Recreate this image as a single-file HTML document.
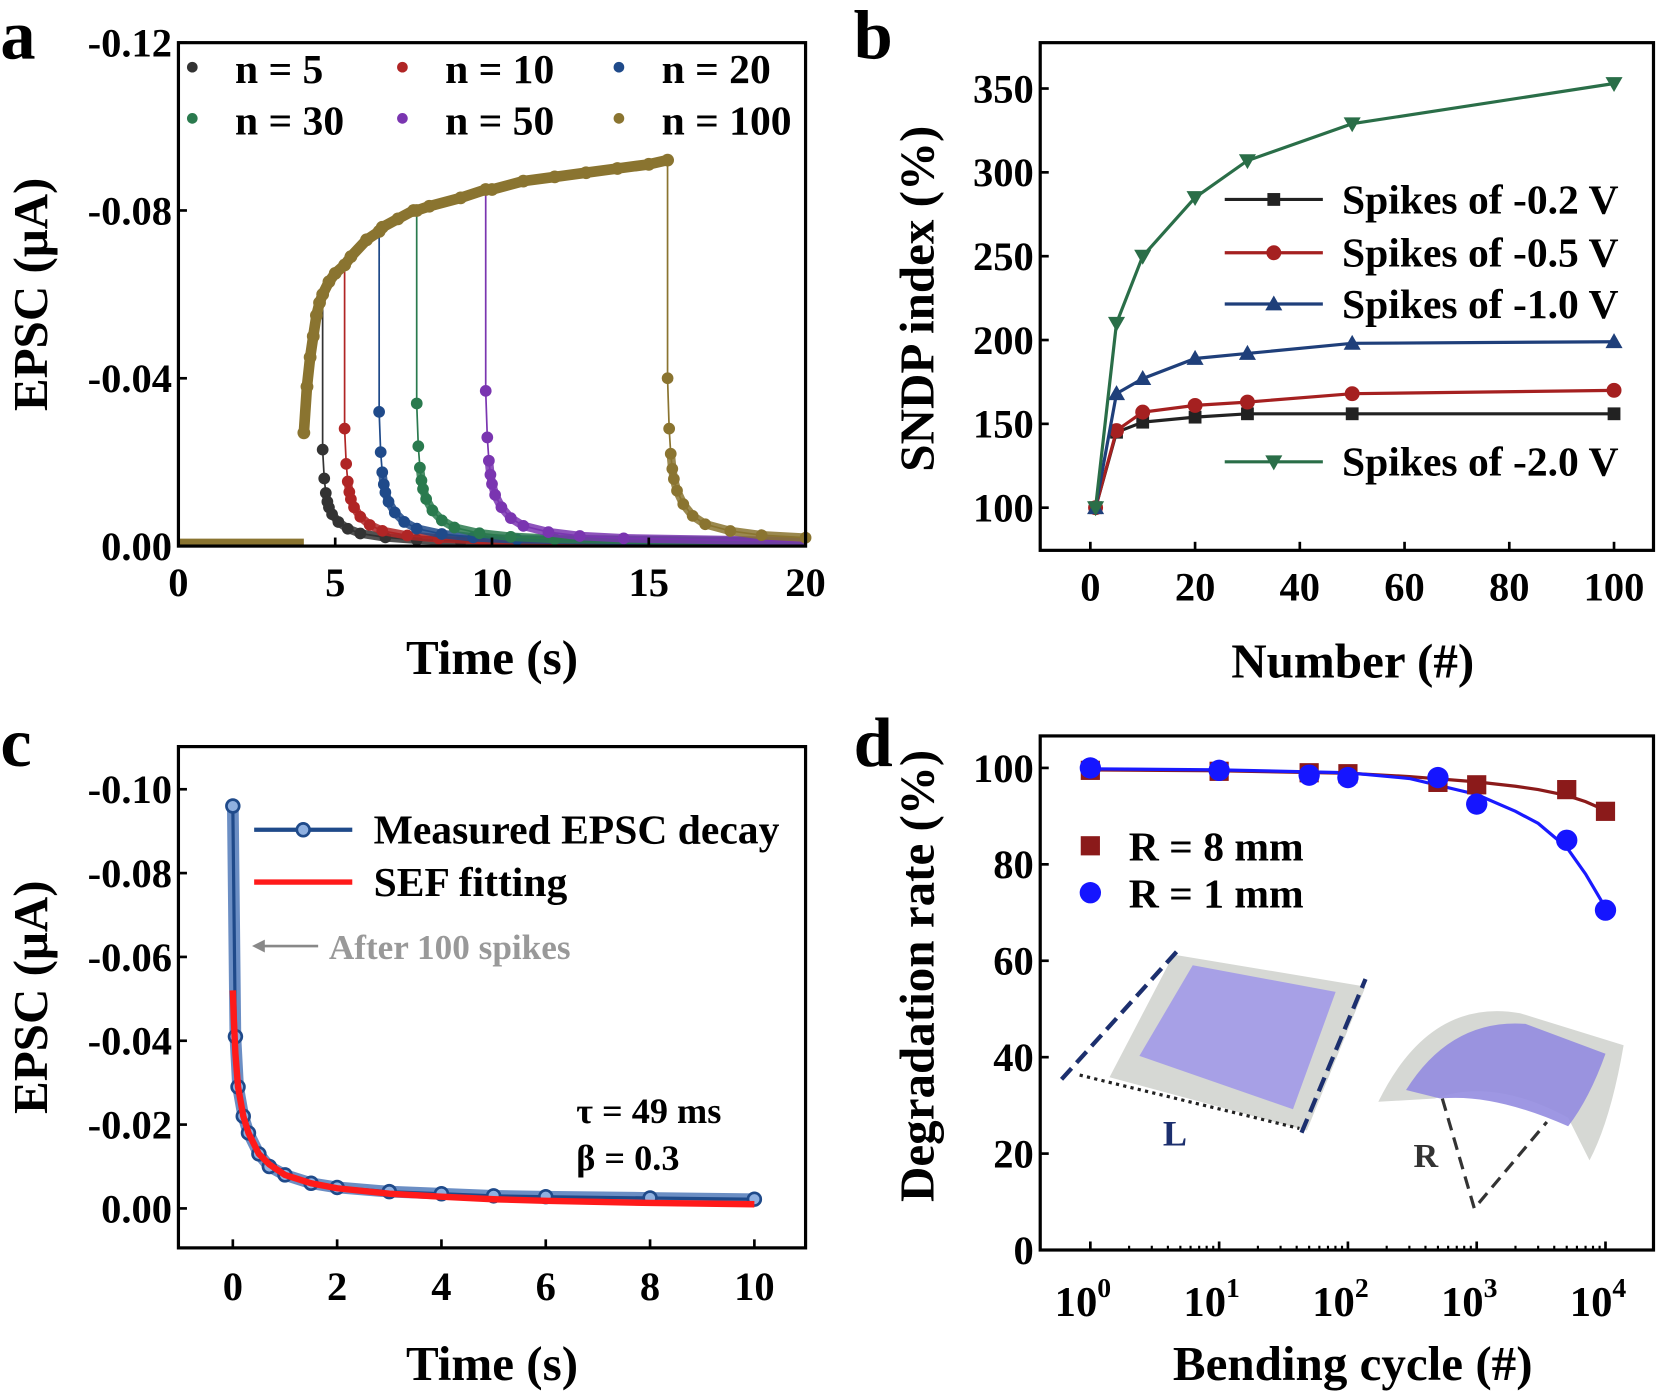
<!DOCTYPE html>
<html><head><meta charset="utf-8"><style>
html,body{margin:0;padding:0;background:#fff;}
svg{display:block;font-family:"Liberation Serif",serif;font-weight:bold;}
</style></head><body>
<svg id="fig" width="1673" height="1394" viewBox="0 0 1568 1307" xmlns="http://www.w3.org/2000/svg">
<g id="pa"></g>
<g id="pb"></g>
<g id="pc"></g>
<g id="pd"></g>
</svg>
<script>
// ---------- Panel a data ----------
const aSeriesNames = ["n = 5","n = 10","n = 20","n = 30","n = 50","n = 100"];
const aColors = ["#333333","#b02525","#1f4a8a","#2a7a4e","#7a35b0","#8a7430"];
const aEndTimes = [4.6,5.3,6.4,7.6,9.8,15.6];
const aDecayPeaks = [-0.023,-0.028,-0.032,-0.034,-0.037,-0.040];
const aRiseT = [4.0,4.1,4.2,4.3,4.4,4.5,4.6,4.8,5.0,5.3,5.5,6.0,6.4,6.5,7.0,7.5,7.6,8.0,9.0,9.8,10,11,12,13,14,15,15.6];
const aRiseV = [-0.027,-0.038,-0.045,-0.050,-0.055,-0.058,-0.060,-0.063,-0.065,-0.067,-0.069,-0.073,-0.075,-0.076,-0.078,-0.080,-0.080,-0.081,-0.083,-0.085,-0.085,-0.087,-0.088,-0.089,-0.090,-0.091,-0.092];
const aDecayDt = [0,0.05,0.1,0.15,0.2,0.3,0.5,0.8,1.2,2,3,4.4];
const aDecayFrac = [1,0.7,0.55,0.46,0.4,0.33,0.25,0.18,0.13,0.09,0.065,0.05];
const aXTicks = [0,5,10,15,20];
const aYTicks = [0,-0.04,-0.08,-0.12];
const aYLabels = ["0.00","-0.04","-0.08","-0.12"];
// ---------- Panel b data ----------
const bX = [1,5,10,20,30,50,100];
const bS02 = [100,145,151,154,156,156,156];
const bS05 = [100,146,157,161,163,168,170];
const bS10 = [100,168,177,189,192,198,199];
const bS20 = [100,210,250,285,307,329,353];
const bNames = ["Spikes of -0.2 V","Spikes of -0.5 V","Spikes of -1.0 V","Spikes of -2.0 V"];
const bXTicks = [0,20,40,60,80,100];
const bYTicks = [100,150,200,250,300,350];
// ---------- Panel c data ----------
const cT = [0,0.05,0.1,0.2,0.3,0.5,0.7,1,1.5,2,3,4,5,6,8,10];
const cMeas = [-0.096,-0.041,-0.029,-0.022,-0.018,-0.013,-0.010,-0.008,-0.006,-0.005,-0.004,-0.0035,-0.003,-0.0028,-0.0025,-0.0022];
const cFitT = [0,0.02,0.05,0.1,0.2,0.3,0.5,0.7,1,1.5,2,3,4,5,6,8,10];
const cFit = [-0.052,-0.045,-0.037,-0.029,-0.022,-0.018,-0.013,-0.0105,-0.008,-0.006,-0.0048,-0.0035,-0.0028,-0.0022,-0.0018,-0.0013,-0.001];
const cXTicks = [0,2,4,6,8,10];
const cYTicks = [0,-0.02,-0.04,-0.06,-0.08,-0.10];
const cYLabels = ["0.00","-0.02","-0.04","-0.06","-0.08","-0.10"];
// ---------- Panel d data ----------
const dX = [1,10,50,100,500,1000,5000,10000];
const dR8 = [99.5,99.3,99,98.8,97,96.5,95.5,91];
const dR1 = [100,99.5,98.5,98,98,92.5,85,70.5];
const dFitX = [1,10,100,300,1000,2000,3000,5000,7000,10000];
const dFit8 = [99.6,99.4,98.9,98.2,97.1,96.2,95.5,94.3,93,91.2];
const dFit1 = [99.8,99.6,99.0,97.8,94.5,91,88.5,83.5,78,71];
const dYTicks = [0,20,40,60,80,100];
const dXDecades = [0,1,2,3,4];

const NS="http://www.w3.org/2000/svg";
const TF=38, AF=46, LF=39;
function mk(parent,tag,attrs,text){const e=document.createElementNS(NS,tag);for(const k in attrs)e.setAttribute(k,attrs[k]);if(text!==undefined)e.textContent=text;parent.appendChild(e);return e;}
function pts(xs,ys,fx,fy){return xs.map((x,i)=>fx(x).toFixed(1)+","+fy(ys[i]).toFixed(1)).join(" ");}
function frame(g,x0,y0,x1,y1){const r=mk(g,"rect",{x:x0,y:y0,width:x1-x0,height:y1-y0,fill:"none",stroke:"#000","stroke-width":3});

}
function txt(g,x,y,s,size,anchor,name,extra){const t=mk(g,"text",Object.assign({x:x,y:y,"font-size":size,"text-anchor":anchor||"middle"},extra||{}),s);

return t;}

// ================= Panel a =================
(function(){
const g=document.getElementById("pa");
const X0=167,X1=755,Y0=40,Y1=512;
const xa=t=>X0+t*(X1-X0)/20, ya=v=>Y1+v*(Y1-Y0)/0.12;
txt(g,0,55,"a",66,"start","panel-label-a");
const base=mk(g,"line",{x1:xa(0),y1:ya(-0.001),x2:xa(4),y2:ya(-0.001),stroke:aColors[5],"stroke-width":6});


aEndTimes.forEach((te,i)=>{
  const col=aColors[i];
  const rt=[],rv=[];
  aRiseT.forEach((t,j)=>{if(t<=te){rt.push(t);rv.push(aRiseV[j]);}});
  const dt=aDecayDt.map(d=>te+d).filter(t=>t<=20);
  const dv=aDecayFrac.slice(0,dt.length).map(f=>f*aDecayPeaks[i]);
  const grp=mk(g,"g",{});
  
  
  const endV=dv[dv.length-1]*0.6;
  mk(grp,"polyline",{points:pts(rt,rv,xa,ya)+" "+pts(dt,dv,xa,ya)+" "+xa(20)+","+ya(endV),fill:"none",stroke:col,"stroke-width":1.6});
  mk(grp,"polyline",{points:pts(dt.slice(2),dv.slice(2),xa,ya)+" "+xa(20)+","+ya(endV),fill:"none",stroke:col,"stroke-width":8,opacity:0.85});
  dt.forEach((t,j)=>{mk(grp,"circle",{cx:xa(t),cy:ya(dv[j]),r:5.5,fill:col});});
  if(i===5){
    mk(grp,"polyline",{points:pts(rt,rv,xa,ya),fill:"none",stroke:col,"stroke-width":10,"stroke-linecap":"round"});
    rt.forEach((t,j)=>{mk(grp,"circle",{cx:xa(t),cy:ya(rv[j]),r:6,fill:col});});
  }
});
frame(g,X0,Y0,X1,Y1);
aXTicks.forEach(t=>{mk(g,"line",{x1:xa(t),y1:Y1,x2:xa(t),y2:Y1-8,stroke:"#000","stroke-width":2.5});
  txt(g,xa(t),Y1+47,String(t),TF,"middle","x-tick-a");});
aYTicks.forEach((v,i)=>{mk(g,"line",{x1:X0,y1:ya(v),x2:X0+8,y2:ya(v),stroke:"#000","stroke-width":2.5});
  txt(g,X0-6,ya(v)+13,aYLabels[i],TF,"end","y-tick-a");});
txt(g,461,632,"Time (s)",AF,"middle","x-axis-title-a");
txt(g,44,276,"EPSC (μA)",AF,"middle","y-axis-title-a",{transform:"rotate(-90 44 276)"});
const lx=[180,377,580], ly=[72,120];
aSeriesNames.forEach((n,i)=>{const c=i%3,r=Math.floor(i/3);
  const d=mk(g,"circle",{cx:lx[c],cy:ly[r]-9,r:5,fill:aColors[i]});
  
  
  txt(g,lx[c]+40,ly[r]+6,n,LF,"start","legend-entry-a");});
})();

// ================= Panel b =================
(function(){
const g=document.getElementById("pb");
const X0=975,X1=1550,Y0=40,Y1=516;
const xb=x=>1022+x*(1513-1022)/100, yb=v=>476-(v-100)*(476-83)/250;
txt(g,800,55,"b",66,"start","panel-label-b");
const series=[bS02,bS05,bS10,bS20], cols=["#222222","#a52020","#1f3f7a","#2a6e48"], marks=["sq","ci","tu","td"];
function marker(grp,m,x,y,c){
  if(m==="sq")mk(grp,"rect",{x:x-6,y:y-6,width:12,height:12,fill:c});
  else if(m==="ci")mk(grp,"circle",{cx:x,cy:y,r:7,fill:c});
  else if(m==="tu")mk(grp,"polygon",{points:`${x},${y-8} ${x-8},${y+6} ${x+8},${y+6}`,fill:c});
  else mk(grp,"polygon",{points:`${x},${y+8} ${x-8},${y-6} ${x+8},${y-6}`,fill:c});
}
series.forEach((s,i)=>{const grp=mk(g,"g",{});
  
  
  mk(grp,"polyline",{points:pts(bX,s,xb,yb),fill:"none",stroke:cols[i],"stroke-width":3});
  bX.forEach((x,j)=>marker(grp,marks[i],xb(x),yb(s[j]),cols[i]));});
frame(g,X0,Y0,X1,Y1);
bXTicks.forEach(t=>{mk(g,"line",{x1:xb(t),y1:Y1,x2:xb(t),y2:Y1-8,stroke:"#000","stroke-width":2.5});
  txt(g,xb(t),Y1+47,String(t),TF,"middle","x-tick-b");});
bYTicks.forEach(v=>{mk(g,"line",{x1:X0,y1:yb(v),x2:X0+8,y2:yb(v),stroke:"#000","stroke-width":2.5});
  txt(g,X0-6,yb(v)+13,String(v),TF,"end","y-tick-b");});
txt(g,1268,635,"Number (#)",AF,"middle","x-axis-title-b");
txt(g,875,280,"SNDP index (%)",AF,"middle","y-axis-title-b",{transform:"rotate(-90 875 280)"});
const legY=[187,237,285,433];
bNames.forEach((n,i)=>{const grp=mk(g,"g",{});
  
  
  mk(grp,"line",{x1:1148,y1:legY[i],x2:1240,y2:legY[i],stroke:cols[i],"stroke-width":3});
  marker(grp,marks[i],1194,legY[i],cols[i]);
  mk(grp,"text",{x:1258,y:legY[i]+13,"font-size":LF},n);});
})();

// ================= Panel c =================
(function(){
const g=document.getElementById("pc");
const X0=167,X1=755,Y0=700,Y1=1170;
const xc=t=>218+t*(707-218)/10, yc=v=>1133+v*(1133-740)/0.10;
txt(g,0,718,"c",66,"start","panel-label-c");
const m=mk(g,"g",{});


mk(m,"polyline",{points:pts(cT,cMeas,xc,yc),fill:"none",stroke:"#3a68b0","stroke-width":11,"stroke-linejoin":"round",opacity:0.75});
mk(m,"polyline",{points:pts(cT,cMeas,xc,yc),fill:"none",stroke:"#1f4a8a","stroke-width":3});
cT.forEach((t,i)=>mk(m,"circle",{cx:xc(t),cy:yc(cMeas[i]),r:6,fill:"#8fb0e0",stroke:"#1f4a8a","stroke-width":2.5}));
const f=mk(g,"polyline",{points:pts(cFitT,cFit,xc,yc),fill:"none",stroke:"#ff1a1a","stroke-width":6});


frame(g,X0,Y0,X1,Y1);
cXTicks.forEach(t=>{mk(g,"line",{x1:xc(t),y1:Y1,x2:xc(t),y2:Y1-8,stroke:"#000","stroke-width":2.5});
  txt(g,xc(t),Y1+49,String(t),TF,"middle","x-tick-c");});
cYTicks.forEach((v,i)=>{mk(g,"line",{x1:X0,y1:yc(v),x2:X0+8,y2:yc(v),stroke:"#000","stroke-width":2.5});
  txt(g,X0-6,yc(v)+13,cYLabels[i],TF,"end","y-tick-c");});
txt(g,461,1294,"Time (s)",AF,"middle","x-axis-title-c");
txt(g,44,935,"EPSC (μA)",AF,"middle","y-axis-title-c",{transform:"rotate(-90 44 935)"});
mk(g,"line",{x1:238,y1:778,x2:330,y2:778,stroke:"#1f4a8a","stroke-width":4});
mk(g,"circle",{cx:284,cy:778,r:6,fill:"#8fb0e0",stroke:"#1f4a8a","stroke-width":2.5});
txt(g,350,791,"Measured EPSC decay",LF,"start","legend-measured");
mk(g,"line",{x1:238,y1:827,x2:330,y2:827,stroke:"#ff1a1a","stroke-width":5});
txt(g,350,840,"SEF fitting",LF,"start","legend-sef-fitting");
mk(g,"line",{x1:298,y1:887,x2:243,y2:887,stroke:"#888","stroke-width":2.5});
mk(g,"polygon",{points:"236,887 248,881 248,893",fill:"#888"});
txt(g,308,899,"After 100 spikes",33,"start","annotation-after-100",{fill:"#999"});
txt(g,540,1053,"τ = 49 ms",34,"start","tau-annotation");
txt(g,540,1097,"β = 0.3",34,"start","beta-annotation");
})();

// ================= Panel d =================
(function(){
const g=document.getElementById("pd");
const X0=975,X1=1550,Y0=690,Y1=1172;
const xd=x=>1022+Math.log10(x)*(1505-1022)/4, yd=v=>1172-v*(1172-720)/100;
txt(g,800,718,"d",66,"start","panel-label-d");
const ins=mk(g,"g",{});


mk(ins,"polygon",{points:"1040,1010 1100,895 1280,925 1225,1060",fill:"#d6d8d4"});
mk(ins,"polygon",{points:"1068,990 1118,905 1252,930 1212,1040",fill:"#a29ae8",opacity:0.9});
mk(ins,"line",{x1:995,y1:1012,x2:1105,y2:890,stroke:"#1c2f6e","stroke-width":4,"stroke-dasharray":"14 7"});
mk(ins,"line",{x1:1220,y1:1062,x2:1280,y2:918,stroke:"#1c2f6e","stroke-width":4,"stroke-dasharray":"14 7"});
mk(ins,"line",{x1:1012,y1:1008,x2:1218,y2:1058,stroke:"#222","stroke-width":3,"stroke-dasharray":"3 4"});
mk(ins,"text",{x:1090,y:1074,"font-size":34,fill:"#1c2f6e"},"L");
mk(ins,"path",{d:"M1292,1033 Q1340,935 1425,950 L1522,980 Q1510,1050 1490,1088 L1470,1048 Q1400,1010 1345,1030 Z",fill:"#d6d8d4"});
mk(ins,"path",{d:"M1318,1022 Q1360,955 1430,960 L1505,988 Q1490,1030 1470,1056 Q1400,1025 1350,1030 Z",fill:"#948ce0",opacity:0.9});
mk(ins,"polyline",{points:"1352,1030 1382,1133 1450,1052",fill:"none",stroke:"#333","stroke-width":3,"stroke-dasharray":"12 7"});
mk(ins,"text",{x:1325,y:1094,"font-size":32,fill:"#333"},"R");
const f8=mk(g,"polyline",{points:pts(dFitX,dFit8,xd,yd),fill:"none",stroke:"#8b1a1a","stroke-width":3});


const f1=mk(g,"polyline",{points:pts(dFitX,dFit1,xd,yd),fill:"none",stroke:"#1a1aff","stroke-width":3});


const g8=mk(g,"g",{});


dX.forEach((x,i)=>mk(g8,"rect",{x:xd(x)-9,y:yd(dR8[i])-9,width:18,height:18,fill:"#8b1a1a"}));
const g1=mk(g,"g",{});


dX.forEach((x,i)=>mk(g1,"circle",{cx:xd(x),cy:yd(dR1[i]),r:10,fill:"#1515ff"}));
frame(g,X0,Y0,X1,Y1);
dXDecades.forEach(k=>{const x=xd(Math.pow(10,k));
  mk(g,"line",{x1:x,y1:Y1,x2:x,y2:Y1-8,stroke:"#000","stroke-width":2.5});
  const t=mk(g,"text",{x:x-7,y:Y1+62,"font-size":40,"text-anchor":"middle"},"10");
  
  
  mk(t,"tspan",{dy:-18,"font-size":26},String(k));
  if(k<4)for(let m=2;m<10;m++){const xm=xd(m*Math.pow(10,k));mk(g,"line",{x1:xm,y1:Y1,x2:xm,y2:Y1-4,stroke:"#000","stroke-width":2});}});
dYTicks.forEach(v=>{mk(g,"line",{x1:X0,y1:yd(v),x2:X0+8,y2:yd(v),stroke:"#000","stroke-width":2.5});
  txt(g,X0-6,yd(v)+13,String(v),TF,"end","y-tick-d");});
txt(g,1268,1294,"Bending cycle (#)",AF,"middle","x-axis-title-d");
txt(g,875,915,"Degradation rate (%)",AF,"middle","y-axis-title-d",{transform:"rotate(-90 875 915)"});
mk(g,"rect",{x:1013,y:784,width:18,height:18,fill:"#8b1a1a"});
txt(g,1058,807,"R = 8 mm",LF,"start","legend-r8");
mk(g,"circle",{cx:1022,cy:837,r:10,fill:"#1515ff"});
txt(g,1058,851,"R = 1 mm",LF,"start","legend-r1");
})();
</script>
</body></html>
